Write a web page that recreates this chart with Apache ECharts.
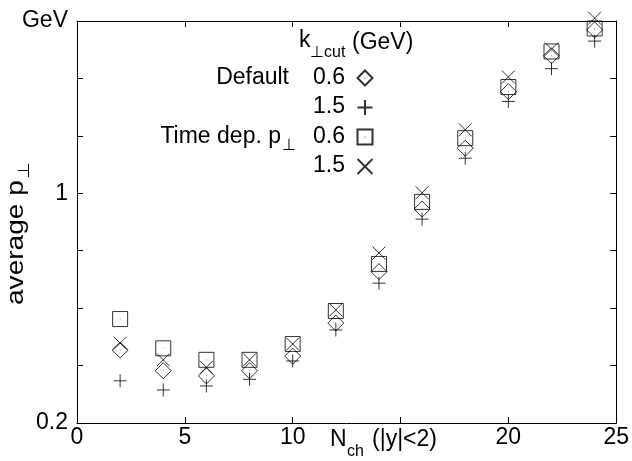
<!DOCTYPE html>
<html>
<head>
<meta charset="utf-8">
<script src="https://cdn.jsdelivr.net/npm/echarts@6/dist/echarts.min.js"></script>
<style>
html,body{margin:0;padding:0;background:#fff;}
#c{width:632px;height:461px;}
</style>
</head>
<body>
<div id="c"></div>
<script>
// ---- data ----
var nch = [2, 4, 6, 8, 10, 12, 14, 16, 18, 20, 22, 24];
var default06 = [0.454, 0.382, 0.364, 0.382, 0.433, 0.548, 0.727, 0.945, 1.157, 1.354, 1.479, 1.569];
var default15 = [0.347, 0.315, 0.329, 0.352, 0.416, 0.524, 0.687, 0.910, 1.122, 1.320, 1.434, 1.530];
var timedep06 = [0.562, 0.460, 0.420, 0.420, 0.475, 0.590, 0.754, 0.970, 1.192, 1.370, 1.494, 1.574];
var timedep15 = [0.478, 0.420, 0.394, 0.420, 0.475, 0.594, 0.792, 1.002, 1.221, 1.405, 1.502, 1.610];
var xTickLabels = {'0': '0', '5': '5', '10': '10', '15': '', '20': '20', '25': '25'};
var yTickLabels = {'0.2': '0.2', '1': '1', '1.6': 'GeV'};

var FONT = '"Liberation Sans", Arial, Helvetica, sans-serif';
var FS = 23;

function pairs(ys) { return nch.map(function (x, i) { return [x, ys[i]]; }); }

var chart = echarts.init(document.getElementById('c'), null, {renderer: 'canvas'});

var openStyle = {color: 'none', borderColor: '#000', borderWidth: 1};
function series(name, data, symbol, size) {
  return {
    name: name, type: 'scatter', data: pairs(data), symbol: symbol, symbolSize: size,
    itemStyle: openStyle, clip: false, silent: true,
    emphasis: {disabled: true}
  };
}

var SYM_DIAMOND = 'path://M5,0L10,5L5,10L0,5Z M4.85,5L5.15,5';
var SYM_PLUS = 'path://M0,5L10,5M5,0L5,10';
var SYM_SQUARE = 'path://M0,0L10,0L10,10L0,10Z M4.85,5L5.15,5';
var SYM_CROSS = 'path://M0,0L10,10M10,0L0,10';

var axisCommon = {
  axisLine: {show: true, onZero: false, lineStyle: {color: '#000', width: 1}},
  axisTick: {show: true, inside: true, length: 6, lineStyle: {color: '#000', width: 1}},
  splitLine: {show: false}
};

chart.setOption({
  animation: false,
  backgroundColor: '#fff',
  grid: {left: 77, right: 13, top: 21, bottom: 38, containLabel: false},
  xAxis: [
    Object.assign({type: 'value', min: 0, max: 25, interval: 5, position: 'bottom',
      axisLabel: {show: true, color: '#000', fontSize: FS, fontFamily: FONT, margin: 3,
        showMinLabel: true, showMaxLabel: true,
        formatter: function (v) { var k = String(Math.round(v)); return (k in xTickLabels) ? xTickLabels[k] : ''; }}}, axisCommon),
    Object.assign({type: 'value', min: 0, max: 25, interval: 5, position: 'top',
      axisLabel: {show: false}}, axisCommon)
  ],
  yAxis: [
    Object.assign({type: 'value', min: 0.2, max: 1.6, interval: 0.2, position: 'left',
      axisLabel: {show: true, color: '#000', fontSize: FS, fontFamily: FONT, margin: 9,
        showMinLabel: true, showMaxLabel: true,
        formatter: function (v) {
          var k = String(Math.round(v * 10) / 10);
          return yTickLabels[k] || '';
        }}}, axisCommon),
    Object.assign({type: 'value', min: 0.2, max: 1.6, interval: 0.2, position: 'right',
      axisLabel: {show: false}}, axisCommon)
  ],
  legend: {
    orient: 'vertical', left: 355, top: 68, padding: 0, itemWidth: 15, itemHeight: 15, itemGap: 9.5,
    selectedMode: false, formatter: function () { return ''; },
    textStyle: {fontSize: 8},
    data: ['Default 0.6', 'Default 1.5', 'Time dep. 0.6', 'Time dep. 1.5']
  },
  series: [
    series('Default 0.6', default06, SYM_DIAMOND, 16),
    series('Default 1.5', default15, SYM_PLUS, 13),
    series('Time dep. 0.6', timedep06, SYM_SQUARE, 15),
    series('Time dep. 1.5', timedep15, SYM_CROSS, 13)
  ],
  graphic: [
    // legend header
    {type: 'text', x: 299, y: 41, style: {text: 'k', fill: '#000', font: FS + 'px ' + FONT, verticalAlign: 'middle', align: 'left'}},
    {type: 'text', x: 310, y: 53, style: {text: '\u22A5cut', fill: '#000', font: '16px ' + FONT, verticalAlign: 'middle', align: 'left'}},
    {type: 'text', x: 352, y: 43, style: {text: '(GeV)', fill: '#000', font: FS + 'px ' + FONT, verticalAlign: 'middle', align: 'left'}},
    // legend rows
    {type: 'text', x: 289, y: 78, style: {text: 'Default', fill: '#000', font: FS + 'px ' + FONT, verticalAlign: 'middle', align: 'right'}},
    {type: 'text', x: 345, y: 78, style: {text: '0.6', fill: '#000', font: FS + 'px ' + FONT, verticalAlign: 'middle', align: 'right'}},
    {type: 'text', x: 345, y: 107, style: {text: '1.5', fill: '#000', font: FS + 'px ' + FONT, verticalAlign: 'middle', align: 'right'}},
    {type: 'text', x: 281, y: 137, style: {text: 'Time dep. p', fill: '#000', font: FS + 'px ' + FONT, verticalAlign: 'middle', align: 'right'}},
    {type: 'text', x: 282, y: 146, style: {text: '\u22A5', fill: '#000', font: '16px ' + FONT, verticalAlign: 'middle', align: 'left'}},
    {type: 'text', x: 345, y: 137, style: {text: '0.6', fill: '#000', font: FS + 'px ' + FONT, verticalAlign: 'middle', align: 'right'}},
    {type: 'text', x: 345, y: 166, style: {text: '1.5', fill: '#000', font: FS + 'px ' + FONT, verticalAlign: 'middle', align: 'right'}},
    // x axis name
    {type: 'text', x: 330, y: 440, style: {text: 'N', fill: '#000', font: FS + 'px ' + FONT, verticalAlign: 'middle', align: 'left'}},
    {type: 'text', x: 347, y: 452, style: {text: 'ch', fill: '#000', font: '16px ' + FONT, verticalAlign: 'middle', align: 'left'}},
    {type: 'text', x: 372, y: 440, style: {text: '(|y|<2)', fill: '#000', font: FS + 'px ' + FONT, verticalAlign: 'middle', align: 'left'}},
    // y axis name (rotated, slightly stretched along its length as in the reference)
    {type: 'group', x: 17, y: 305, scaleY: 1.22, children: [
      {type: 'group', rotation: Math.PI / 2, children: [
        {type: 'text', x: 0, y: 0, style: {text: 'average p', fill: '#000', font: FS + 'px ' + FONT, verticalAlign: 'middle', align: 'left'}},
        {type: 'text', x: 103, y: 8, style: {text: '\u22A5', fill: '#000', font: '16px ' + FONT, verticalAlign: 'middle', align: 'left'}}
      ]}
    ]}
  ]
});
</script>
</body>
</html>
